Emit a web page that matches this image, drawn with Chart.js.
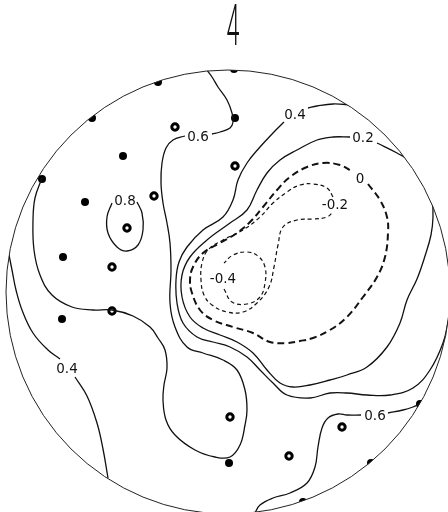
<!DOCTYPE html>
<html>
<head>
<meta charset="utf-8">
<script src="https://cdn.jsdelivr.net/npm/chart.js@4.4.1/dist/chart.umd.min.js"></script>
<style>
  html, body { margin: 0; padding: 0; background: #fff; }
  canvas { display: block; }
</style>
</head>
<body>
<canvas id="map" width="448" height="512"></canvas>
<script>
// digitised map coordinates (x to the right, y downwards)
var boundaryCentre = [228, 292];
var boundaryRadius = 222;

// stations
var solidStations = [[234,69],[158,82],[92,118],[235,118],[123,156],[42,179],[85,202],[63,257],
  [62,319],[229,463],[420,404],[371,463],[303,502]];
var ringStations = [[175,127],[235,166],[154,196],[127,228],[112,267],[112,311],[230,417],
  [289,456],[342,427]];

// contour lines (split where the label sits)
var c06UpperA = [[212,134],[220,132],[230,128],[233,122],[232,113],[227,100],[218,87],[212,77],[206,69]];
var c06UpperB = [[185,136],[173,140],[166,148],[162,163],[161,183],[163,203],[167,223],[170,243],
  [171,270],[170,303],[175,327],[187,347],[203,353],[223,360],[237,370],[245,390],[247,410],
  [245,425],[240,445],[230,457],[215,457],[195,450],[175,435],[166,420],[163,400],[164,385],
  [167,368],[165,350],[158,338],[150,327],[133,316],[112,310],[93,310],[72,307],[52,295],
  [40,275],[34,250],[33,220],[35,198],[42,178]];
var c08 = [[137,202],[142,213],[143,230],[138,245],[127,251],[117,247],[108,233],[107,217],[112,203]];
var c04LeftA = [[9,255],[12,270],[16,290],[22,310],[33,333],[48,350],[60,359]];
var c04LeftB = [[75,377],[87,396],[97,423],[103,449],[108,478]];
var c04RightA = [[352,105],[333,104],[317,106],[308,108]];
var c04RightB = [[284,122],[273,133],[260,147],[247,163],[238,180],[233,200],[223,217],[203,230],
  [187,247],[179,262],[176,280],[177,303],[183,323],[197,337],[213,342],[230,347],[247,357],
  [260,370],[273,383],[287,395],[310,398],[330,393],[347,393],[367,395],[390,395],[413,388],
  [430,370],[443,343],[449,318]];
var c02 = [[350,137],[333,137],[317,140],[297,150],[280,160],[267,173],[257,190],[247,210],
  [230,223],[207,240],[190,257],[182,275],[182,297],[190,317],[203,328],[220,335],[237,342],
  [253,353],[267,370],[280,383],[293,387],[310,385],[330,380],[347,375],[367,367],[387,347],
  [400,323],[407,300],[417,279],[425,256],[431,235],[433,217],[432,200],[427,183],[413,163],
  [397,153],[377,143]];
var c00 = [[368,184],[380,200],[387,217],[388,233],[385,257],[377,277],[363,297],[347,317],
  [330,330],[313,338],[300,341],[287,343],[270,342],[253,333],[233,327],[213,320],[200,310],
  [192,293],[190,280],[193,267],[203,253],[220,243],[237,233],[250,222],[263,207],[277,190],
  [290,177],[307,167],[323,163],[340,165],[353,172]];
var cM02 = [[333,197],[327,188],[313,184],[300,185],[287,192],[273,203],[260,217],[243,230],
  [223,240],[208,250],[202,263],[201,280],[204,295],[212,305],[227,312],[243,312],[257,303],
  [269,287],[274,267],[278,245],[283,227],[297,220],[313,219],[327,217],[333,212]];
var cM04 = [[224,289],[232,302],[247,304],[260,297],[265,283],[265,267],[258,256],[247,252],
  [233,255],[224,263]];
var c06LowerA = [[420,404],[413,407],[403,410],[388,413]];
var c06LowerB = [[361,415],[347,415],[338,414],[328,418],[322,428],[318,447],[315,467],[307,483],
  [290,493],[273,498],[260,505],[255,513]];

// contour labels
var labelText = ['0.6', '0.8', '0.4', '0.2', '0', '-0.2', '-0.4', '0.4', '0.6'];
var labelX = [198, 125, 295, 363, 360, 335, 223, 67, 375];
var labelY = [137, 201, 115, 138, 179, 205, 279, 369, 416];

var sheetMark = '4';
var sheetMarkPos = [233, 28];

function pts(a) {
  return a.map(function(p) { return {x: p[0], y: p[1]}; });
}

function solid(d) {
  return {type: 'line', data: pts(d), borderColor: '#111', borderWidth: 1.3,
    pointRadius: 0, tension: 0.4, fill: false};
}
function heavyDash(d) {
  return {type: 'line', data: pts(d), borderColor: '#111', borderWidth: 2,
    borderDash: [7, 4], pointRadius: 0, tension: 0.4, fill: false};
}
function lightDash(d) {
  return {type: 'line', data: pts(d), borderColor: '#111', borderWidth: 1.2,
    borderDash: [4, 3], pointRadius: 0, tension: 0.4, fill: false};
}

var mapPlugin = {
  id: 'mapPlugin',
  beforeDatasetsDraw: function(chart) {
    var xs = chart.scales.x, ys = chart.scales.y, ctx = chart.ctx;
    var cx = xs.getPixelForValue(boundaryCentre[0]);
    var cy = ys.getPixelForValue(boundaryCentre[1]);
    var r = xs.getPixelForValue(boundaryCentre[0] + boundaryRadius) - cx;
    ctx.save();
    ctx.beginPath();
    ctx.arc(cx, cy, r, 0, Math.PI * 2);
    ctx.clip();
  },
  afterDatasetsDraw: function(chart) {
    var xs = chart.scales.x, ys = chart.scales.y, ctx = chart.ctx;
    ctx.restore();
    var cx = xs.getPixelForValue(boundaryCentre[0]);
    var cy = ys.getPixelForValue(boundaryCentre[1]);
    var r = xs.getPixelForValue(boundaryCentre[0] + boundaryRadius) - cx;
    ctx.save();
    ctx.beginPath();
    ctx.arc(cx, cy, r, 0, Math.PI * 2);
    ctx.strokeStyle = '#222';
    ctx.lineWidth = 1;
    ctx.stroke();

    ctx.fillStyle = '#111';
    ctx.font = '13.5px "DejaVu Sans"';
    ctx.textAlign = 'center';
    ctx.textBaseline = 'middle';
    for (var i = 0; i < labelText.length; i++) {
      ctx.fillText(labelText[i], xs.getPixelForValue(labelX[i]), ys.getPixelForValue(labelY[i]));
    }

    // sheet mark at the top
    ctx.translate(xs.getPixelForValue(sheetMarkPos[0]), ys.getPixelForValue(sheetMarkPos[1]));
    ctx.scale(0.4, 1);
    ctx.font = '300 58px Roboto';
    ctx.fillText(sheetMark, 0, 2);
    ctx.restore();
  }
};

var ctx = document.getElementById('map').getContext('2d');
new Chart(ctx, {
  type: 'scatter',
  data: {
    datasets: [
      solid(c06UpperA), solid(c06UpperB), solid(c08),
      solid(c04LeftA), solid(c04LeftB), solid(c04RightA), solid(c04RightB),
      solid(c02), heavyDash(c00), lightDash(cM02), lightDash(cM04),
      solid(c06LowerA), solid(c06LowerB),
      {data: pts(solidStations), pointRadius: 4, backgroundColor: '#000', borderColor: '#000', borderWidth: 0},
      {data: pts(ringStations), pointRadius: 3.2, backgroundColor: '#fff', borderColor: '#000', borderWidth: 3}
    ]
  },
  options: {
    responsive: false,
    animation: false,
    layout: {padding: 0, autoPadding: false},
    plugins: {legend: {display: false}, tooltip: {enabled: false}},
    scales: {
      x: {type: 'linear', min: 0, max: 448, display: false},
      y: {type: 'linear', min: 0, max: 512, reverse: true, display: false}
    }
  },
  plugins: [mapPlugin]
});
</script>
</body>
</html>
